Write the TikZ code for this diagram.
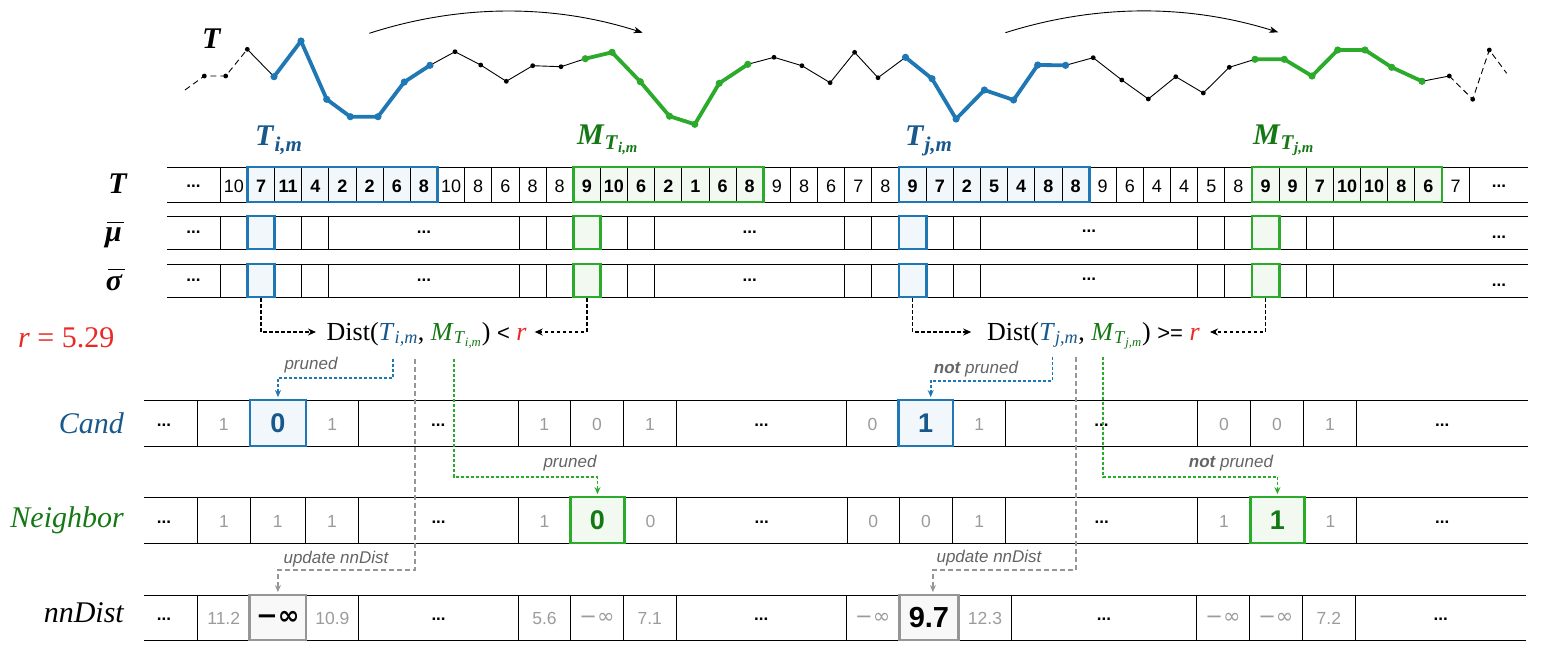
\documentclass[tikz,border=0pt]{standalone}
\usepackage{fontspec}
\setmainfont{Liberation Serif}
\newfontfamily\sansf{Liberation Sans}
\newfontfamily\djv{DejaVu Sans}
\usetikzlibrary{arrows.meta,calc}
\definecolor{cblue}{RGB}{31,119,180}
\definecolor{cgreen}{RGB}{44,170,44}
\definecolor{dblue}{RGB}{24,88,140}
\definecolor{dgreen}{RGB}{20,120,20}
\definecolor{cred}{RGB}{235,40,35}
\definecolor{lblue}{RGB}{241,247,251}
\definecolor{lgreen}{RGB}{242,249,240}
\definecolor{lgray}{RGB}{248,248,248}
\definecolor{bgray}{RGB}{150,150,150}
\definecolor{ngray}{RGB}{155,155,155}
\definecolor{agray}{RGB}{100,100,100}
\definecolor{ldash}{RGB}{150,150,150}
\newcommand{\myfs}[1]{\fontsize{#1}{#1}\selectfont}
\newcommand{\mybi}[1]{\textbf{\textit{#1}}}
\newcommand{\mydots}{\textbf{...}}
\newcommand{\cxx}[1]{220.3+27.15*(#1)}
\newcommand{\mybar}[1]{\setbox0\hbox{#1}\vbox{\offinterlineskip\hbox to\wd0{\hskip2pt\vrule width\wd0 height1.6pt\hss}\kern4pt\box0}}
\begin{document}
\begin{tikzpicture}[x=1pt,y=-1pt,
  grid/.style={line width=0.9pt,black},
  num/.style={font=\sansf\myfs{18},inner sep=0},
  gn/.style={font=\sansf\myfs{17.5},text=ngray,inner sep=0},
  gi/.style={font=\djv\myfs{21},text=ngray,inner sep=0},
  dn/.style={font=\sansf\bfseries\myfs{17},inner sep=0},
  wbox/.style={draw=#1,line width=2.8pt,inner sep=0,minimum height=35pt,minimum width=190.05pt},
  sbox/.style={draw=#1,line width=2.8pt,inner sep=0,minimum height=33pt,minimum width=27.15pt},
  bx/.style={draw=#1,line width=2.8pt,inner sep=0,minimum height=46pt},
  ann/.style={font=\sansf\itshape\myfs{17},text=agray,inner sep=0},
  kdot/.style={line width=1.6pt,dash pattern=on 3.5pt off 2.5pt,-{Stealth[length=8pt,width=7pt]}},
  bdot/.style={cblue,line width=1.8pt,dash pattern=on 3pt off 2pt,-{Stealth[length=7pt,width=6pt]},shorten >=1.5pt},
  gdot/.style={cgreen,line width=1.8pt,dash pattern=on 3pt off 2pt,-{Stealth[length=7pt,width=6pt]},shorten >=1.5pt},
  ydash/.style={ldash,line width=1.5pt,dash pattern=on 5pt off 3pt,-{Stealth[length=7pt,width=6pt]},shorten >=1.5pt},
  serline/.style={line width=0.9pt,black},
  cline/.style={line width=3.8pt,line join=round,line cap=round},
  lab/.style={font=\myfs{30},inner sep=0}
]
\useasboundingbox (0,0) rectangle (1543,654);

% ---------------- time series ----------------
\draw[serline,dash pattern=on 6pt off 4pt] (185,90) -- (204.3,76) -- (225.7,76) -- (247.3,49.3);
\draw[serline] (247.3,49.3) -- (274,76.7) -- (301,41) -- (326.7,99.3) -- (350.3,116.7) -- (378,116.7) -- (404.3,82) -- (430,65.3) -- (455,51.7) -- (480.7,65) -- (506.3,81.3) -- (532.7,65.7) -- (561,66.7) -- (585.3,58.7) -- (612,52.3) -- (640.3,81.7) -- (669.5,116.2) -- (694.8,124.3) -- (719.2,83.3) -- (747.8,64.3) -- (774,57.3) -- (801.9,65.7) -- (830.1,82.7) -- (854.6,52.3) -- (878,77.7) -- (905.5,57.3) -- (932,78.7) -- (956.1,119) -- (984.4,90) -- (1013.6,100) -- (1037.7,65) -- (1065.6,65.3) -- (1093.2,57.7) -- (1121.8,80) -- (1148.3,99) -- (1175.8,76.7) -- (1203.3,93) -- (1229.3,67.3) -- (1255,59.3) -- (1284.3,59.3) -- (1312,76) -- (1337.7,50) -- (1365,50) -- (1391.7,67.3) -- (1422,81.3) -- (1449.3,76);
\draw[serline,dash pattern=on 6pt off 4pt] (1449.3,76) -- (1472.7,99.3) -- (1489.3,50) -- (1506.7,73.3);
\draw[cline,cblue] (274,76.7) -- (301,41) -- (326.7,99.3) -- (350.3,116.7) -- (378,116.7) -- (404.3,82) -- (430,65.3);
\draw[cline,cgreen] (585.3,58.7) -- (612,52.3) -- (640.3,81.7) -- (669.5,116.2) -- (694.8,124.3) -- (719.2,83.3) -- (747.8,64.3);
\draw[cline,cblue] (905.5,57.3) -- (932,78.7) -- (956.1,119) -- (984.4,90) -- (1013.6,100) -- (1037.7,65) -- (1065.6,65.3);
\draw[cline,cgreen] (1255,59.3) -- (1284.3,59.3) -- (1312,76) -- (1337.7,50) -- (1365,50) -- (1391.7,67.3) -- (1422,81.3);
\foreach \x/\y in {204.3/76,225.7/76,247.3/49.3,455/51.7,480.7/65,506.3/81.3,532.7/65.7,561/66.7,774/57.3,801.9/65.7,830.1/82.7,854.6/52.3,878/77.7,1093.2/57.7,1121.8/80,1148.3/99,1175.8/76.7,1203.3/93,1229.3/67.3,1449.3/76,1472.7/99.3,1489.3/50}
  \fill (\x,\y) circle[radius=2.4pt];
\foreach \x/\y in {274/76.7,301/41,326.7/99.3,350.3/116.7,378/116.7,404.3/82,430/65.3,905.5/57.3,932/78.7,956.1/119,984.4/90,1013.6/100,1037.7/65,1065.6/65.3}
  \fill[cblue] (\x,\y) circle[radius=3.6pt];
\foreach \x/\y in {585.3/58.7,612/52.3,640.3/81.7,669.5/116.2,694.8/124.3,719.2/83.3,747.8/64.3,1255/59.3,1284.3/59.3,1312/76,1337.7/50,1365/50,1391.7/67.3,1422/81.3}
  \fill[cgreen] (\x,\y) circle[radius=3.6pt];

% curved arrows
\coordinate (ca1) at (369.3,33.3);
\coordinate (ca2) at (642.7,32.7);
\coordinate (cb1) at (1005.4,32.7);
\coordinate (cb2) at (1278.3,32.3);
\draw[line width=0.9pt,-{Stealth[length=9pt,width=6.5pt,inset=2.5pt]}] (ca1) .. controls (460,4) and (553,4) .. (ca2);
\draw[line width=0.9pt,-{Stealth[length=9pt,width=6.5pt,inset=2.5pt]}] (cb1) .. controls (1096,4) and (1188,4) .. (cb2);

\node[lab,anchor=base west] (lTs) at (202,48) {\mybi{T}};

% window labels
\node[lab,anchor=base west,text=dblue] (lTi) at (255,145) {\mybi{T}\textsubscript{\mybi{i,m}}};
\node[lab,anchor=base west,text=dgreen] (lMi) at (577,144) {\mybi{M}\textsubscript{\mybi{T}\textsubscript{\mybi{i,m}}}};
\node[lab,anchor=base west,text=dblue] (lTj) at (905,145) {\mybi{T}\textsubscript{\mybi{j,m}}};
\node[lab,anchor=base west,text=dgreen] (lMj) at (1253,144) {\mybi{M}\textsubscript{\mybi{T}\textsubscript{\mybi{j,m}}}};

% row labels
\node[lab,anchor=base east] (rT) at (128,193) {\mybi{T}};
\node[lab,anchor=base east] (rmu) at (122,241) {\mybar{\mybi{μ}}};
\node[lab,anchor=base east] (rsg) at (123,290) {\mybar{\mybi{σ}}};
\node[lab,anchor=base west,text=cred] (rr) at (18,347) {\textit{r} = 5.29};
\node[lab,anchor=base east,text=dblue,font=\myfs{30}\itshape] (rcand) at (124,433) {Cand};
\node[lab,anchor=base east,text=dgreen,font=\myfs{30}\itshape] (rnb) at (124,527) {Neighbor};
\node[lab,anchor=base east,font=\myfs{30}\itshape] (rnn) at (124,622) {nnDist};

% ---------------- T row ----------------
\fill[lblue] ({\cxx{1}},167) rectangle ({\cxx{8}},202);
\fill[lgreen] ({\cxx{13}},167) rectangle ({\cxx{20}},202);
\fill[lblue] ({\cxx{25}},167) rectangle ({\cxx{32}},202);
\fill[lgreen] ({\cxx{38}},167) rectangle ({\cxx{45}},202);
\draw[grid] (167,167) -- (1528,167) (167,202) -- (1528,202);
\foreach \b in {0,...,46} \draw[grid] ({\cxx{\b}},167) -- ({\cxx{\b}},202);
\node[dn] (tdl) at (193.5,186.5) {\mydots};
\node[dn] (tdr) at (1499,186.5) {\mydots};
\foreach \v/\w [count=\i from 0] in {10/0,7/1,11/1,4/1,2/1,2/1,6/1,8/1,10/0,8/0,6/0,8/0,8/0,9/1,10/1,6/1,2/1,1/1,6/1,8/1,9/0,8/0,6/0,7/0,8/0,9/1,7/1,2/1,5/1,4/1,8/1,8/1,9/0,6/0,4/0,4/0,5/0,8/0,9/1,9/1,7/1,10/1,10/1,8/1,6/1,7/0}
  \node[num] (t\i) at ({\cxx{\i+0.5}},186.5) {\ifnum\w=1 \textbf{\v}\else\v\fi};
\node[wbox=cblue] (wTi) at ({\cxx{4.5}},184.5) {};
\node[wbox=cgreen] (wMi) at ({\cxx{16.5}},184.5) {};
\node[wbox=cblue] (wTj) at ({\cxx{28.5}},184.5) {};
\node[wbox=cgreen] (wMj) at ({\cxx{41.5}},184.5) {};

% ---------------- mu / sigma rows ----------------
\foreach \yt/\yb/\nm in {216/249/mu,264/297/sg} {
  \fill[lblue] ({\cxx{1}},\yt) rectangle ({\cxx{2}},\yb);
  \fill[lgreen] ({\cxx{13}},\yt) rectangle ({\cxx{14}},\yb);
  \fill[lblue] ({\cxx{25}},\yt) rectangle ({\cxx{26}},\yb);
  \fill[lgreen] ({\cxx{38}},\yt) rectangle ({\cxx{39}},\yb);
  \draw[grid] (167,\yt) -- (1528,\yt) (167,\yb) -- (1528,\yb);
  \foreach \b in {0,1,2,3,4,11,12,13,14,15,16,23,24,25,26,27,28,36,37,38,39,40,41}
    \draw[grid] ({\cxx{\b}},\yt) -- ({\cxx{\b}},\yb);
  \node[sbox=cblue] (\nm-a) at ({\cxx{1.5}},{(\yt+\yb)/2}) {};
  \node[sbox=cgreen] (\nm-b) at ({\cxx{13.5}},{(\yt+\yb)/2}) {};
  \node[sbox=cblue] (\nm-c) at ({\cxx{25.5}},{(\yt+\yb)/2}) {};
  \node[sbox=cgreen] (\nm-d) at ({\cxx{38.5}},{(\yt+\yb)/2}) {};
  \node[dn] (\nm-d1) at (193.5,{(\yt+\yb)/2}) {\mydots};
  \node[dn] (\nm-d2) at (424,{(\yt+\yb)/2}) {\mydots};
  \node[dn] (\nm-d3) at (749.7,{(\yt+\yb)/2}) {\mydots};
  \node[dn] (\nm-d4) at (1089,{(\yt+\yb)/2-1}) {\mydots};
  \node[dn] (\nm-d5) at (1499,{(\yt+\yb)/2+4.5}) {\mydots};
}

% ---------------- Dist expressions ----------------
\node[anchor=base west,font=\myfs{26},inner sep=0] (distL) at (326.5,340)
  {Dist(\textcolor{dblue}{\textit{T}\textsubscript{\textit{i,m}}}, \textcolor{dgreen}{\textit{M}\textsubscript{\textit{T}\textsubscript{\textit{i,m}}}}) {\sansf\myfs{22}<} \textcolor{cred}{\textit{r}}};
\node[anchor=base west,font=\myfs{26},inner sep=0] (distR) at (986.8,340)
  {Dist(\textcolor{dblue}{\textit{T}\textsubscript{\textit{j,m}}}, \textcolor{dgreen}{\textit{M}\textsubscript{\textit{T}\textsubscript{\textit{j,m}}}}) {\sansf\myfs{22}>=} \textcolor{cred}{\textit{r}}};
\coordinate (aL1) at (316,332);
\coordinate (aL2) at (534.7,332);
\coordinate (aR1) at (971.2,332);
\coordinate (aR2) at (1210,332);
\draw[kdot] (sg-a.south) |- (aL1);
\draw[kdot] (sg-b.south) |- (aL2);
\draw[kdot] (sg-c.south) |- (aR1);
\draw[kdot] (sg-d.south) |- (aR2);

% ---------------- Cand row ----------------
\draw[grid] (144,400) -- (1528,400) (144,446) -- (1528,446);
\foreach \x in {197.6,250,306,358.5,518,570.6,623.5,676.3,846.5,898.5,953,1005.5,1197.6,1250.6,1303.6,1356.6}
  \draw[grid] (\x,400) -- (\x,446);
\foreach \x/\t [count=\i] in {223.8/1,332.2/1,544.3/1,597/0,649.9/1,872.5/0,979.2/1,1224.1/0,1277.1/0,1330.1/1}
  \node[gn] (cn\i) at (\x,424) {\t};
\foreach \x [count=\i] in {164,438.2,761.4,1101.5,1442.3}
  \node[dn] (cd\i) at (\x,425) {\mydots};
\node[bx=cblue,fill=lblue,minimum width=56pt,font=\sansf\bfseries\myfs{27},text=dblue] (cA) at (278,423) {0};
\node[bx=cblue,fill=lblue,minimum width=54.5pt,font=\sansf\bfseries\myfs{27},text=dblue] (cB) at (925.7,423) {1};

% ---------------- Neighbor row ----------------
\draw[grid] (144,497) -- (1528,497) (144,543) -- (1528,543);
\foreach \x in {197.6,250.2,305.3,358.8,518.4,570.6,624.5,676.3,847.4,899.2,952.8,1005.8,1197.6,1250.6,1304.2,1356.6}
  \draw[grid] (\x,497) -- (\x,543);
\foreach \x/\t [count=\i] in {223.9/1,277.7/1,332/1,544.5/1,650.4/0,873.3/0,926/0,979.3/1,1224.1/1,1330.4/1}
  \node[gn] (nn\i) at (\x,521) {\t};
\foreach \x [count=\i] in {164,438.6,761.8,1101.7,1442.3}
  \node[dn] (nd\i) at (\x,522) {\mydots};
\node[bx=cgreen,fill=lgreen,minimum width=53.9pt,font=\sansf\bfseries\myfs{27},text=dgreen] (nA) at (597.5,520) {0};
\node[bx=cgreen,fill=lgreen,minimum width=53.6pt,font=\sansf\bfseries\myfs{27},text=dgreen] (nB) at (1277.4,520) {1};

% ---------------- nnDist row ----------------
\draw[grid] (144,595) -- (1526,595) (144,640) -- (1526,640);
\foreach \x in {197.6,249.8,306,358.8,518.4,570.6,623.3,676.3,846.2,899.2,958.5,1011.5,1196.5,1249.4,1302.4,1355.4}
  \draw[grid] (\x,595) -- (\x,640);
\foreach \x/\t [count=\i] in {223.7/11.2,332.4/10.9,544.5/5.6,649.8/7.1,985/12.3,1328.9/7.2}
  \node[gn] (dn\i) at (\x,618) {\t};
\foreach \x [count=\i] in {597,872.7,1223,1275.9}
  \node[gi] (di\i) at (\x,618) {−∞};
\foreach \x [count=\i] in {164,438.6,761.3,1104,1440.7}
  \node[dn] (dd\i) at (\x,619) {\mydots};
\node[bx=bgray,fill=lgray,minimum width=56.2pt,minimum height=45pt,font=\djv\bfseries\myfs{26}] (dA) at (277.9,617.5) {−∞};
\node[bx=bgray,fill=lgray,minimum width=59.3pt,minimum height=45pt,font=\sansf\bfseries\myfs{29}] (dB) at (928.9,617.5) {9.7};

% ---------------- update connectors ----------------
\coordinate (bL) at (393,359);
\coordinate (bR) at (1052.4,356.7);
\coordinate (gL) at (454,359);
\coordinate (gR) at (1102.6,356.7);
\coordinate (yL) at (415,359);
\coordinate (yR) at (1076,356.7);
\draw[ydash] (yL) -- ++(0,211) -| (dA.north);
\draw[ydash] (yR) -- ++(0,213.3) -| ($(dB.north)+(4,0)$);
\draw[bdot] (bL) -- ++(0,19.3) -| (cA.north);
\draw[bdot] (bR) -- ++(0,24) -| ($(cB.north)+(5,0)$);
\draw[gdot] (gL) -- ++(0,117.7) -| (nA.north);
\draw[gdot] (gR) -- ++(0,120) -| (nB.north);

\node[ann] (pL) at (311,365) {pruned};
\node[ann] (pR) at (976,369) {\textbf{not} pruned};
\node[ann] (pgL) at (570,463) {pruned};
\node[ann] (pgR) at (1231,463) {\textbf{not} pruned};
\node[ann] (uL) at (336,559) {update nnDist};
\node[ann] (uR) at (989,558) {update nnDist};
\end{tikzpicture}
\end{document}
